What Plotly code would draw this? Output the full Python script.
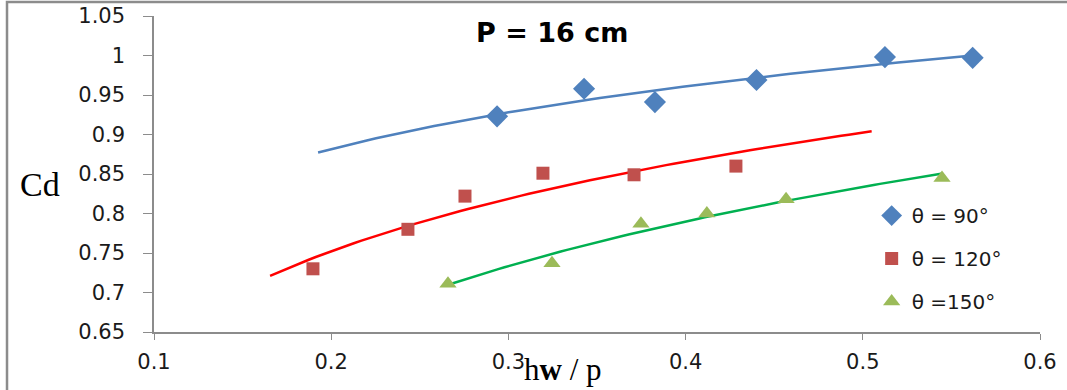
import numpy as np
import plotly.graph_objects as go

# Measured discharge coefficient vs relative head, P = 16 cm
hw_p_90 = [0.2936, 0.3427, 0.3827, 0.4400, 0.5125, 0.5620]
cd_90 = [0.923, 0.958, 0.941, 0.969, 0.998, 0.997]

hw_p_120 = [0.1897, 0.2433, 0.2755, 0.3195, 0.3709, 0.4284]
cd_120 = [0.730, 0.780, 0.822, 0.851, 0.849, 0.860]

hw_p_150 = [0.2659, 0.3246, 0.3748, 0.4120, 0.4567, 0.5447]
cd_150 = [0.711, 0.737, 0.787, 0.800, 0.818, 0.845]

# x-extent of each logarithmic trendline
trend_range_90 = [0.1926, 0.562]
trend_range_120 = [0.1655, 0.505]
trend_range_150 = [0.266, 0.545]

series_names = ["θ = 90°", "θ = 120°", "θ =150°"]

x_ticks = [0.1, 0.2, 0.3, 0.4, 0.5, 0.6]
x_tick_text = ["0.1", "0.2", "0.3", "0.4", "0.5", "0.6"]
y_ticks = [0.65, 0.70, 0.75, 0.80, 0.85, 0.90, 0.95, 1.00, 1.05]
y_tick_text = ["0.65", "0.7", "0.75", "0.8", "0.85", "0.9", "0.95", "1", "1.05"]

marker_colors = ["#4F81BD", "#C0504D", "#9BBB59"]
line_colors = ["#4F81BD", "#FF0000", "#00B050"]
symbols = ["diamond", "square", "triangle-up"]
marker_sizes = [17, 13, 15]

tick_font = dict(family="DejaVu Sans", size=21, color="#1a1a1a")


def log_trend(xs, ys, xr):
    """Least-squares fit y = a + b*ln(x), evaluated across xr."""
    b, a = np.polyfit(np.log(xs), ys, 1)
    xx = np.linspace(xr[0], xr[1], 80)
    return xx, a + b * np.log(xx)


fig = go.Figure()
datasets = [
    (hw_p_90, cd_90, trend_range_90),
    (hw_p_120, cd_120, trend_range_120),
    (hw_p_150, cd_150, trend_range_150),
]

for i, (xs, ys, xr) in enumerate(datasets):
    tx, ty = log_trend(xs, ys, xr)
    fig.add_trace(go.Scatter(
        x=tx, y=ty, mode="lines",
        line=dict(color=line_colors[i], width=2.5),
        showlegend=False, hoverinfo="skip",
    ))

for i, (xs, ys, xr) in enumerate(datasets):
    fig.add_trace(go.Scatter(
        x=xs, y=ys, mode="markers", name=series_names[i],
        legendgroup=f"g{i}",
        marker=dict(symbol=symbols[i], size=marker_sizes[i],
                    color=marker_colors[i], line=dict(width=0)),
    ))

axis_color = "#8C8C8C"

fig.update_layout(
    width=1067, height=390,
    margin=dict(l=154, r=27, t=16, b=58, autoexpand=False),
    paper_bgcolor="white", plot_bgcolor="white",
    showlegend=True,
    legend=dict(
        x=0.81, y=0.43, xanchor="left", yanchor="top",
        font=dict(family="DejaVu Sans", size=20, color="#1a1a1a"),
        tracegroupgap=14, bgcolor="rgba(0,0,0,0)",
    ),
    xaxis=dict(
        range=[0.1, 0.6], tickvals=x_ticks, ticktext=x_tick_text,
        showgrid=False, zeroline=False, showline=True,
        linecolor=axis_color, linewidth=1.5,
        ticks="outside", ticklen=6, tickcolor=axis_color,
        tickfont=tick_font, ticklabelstandoff=4, automargin=False,
    ),
    yaxis=dict(
        range=[0.65, 1.05], tickvals=y_ticks, ticktext=y_tick_text,
        showgrid=False, zeroline=False, showline=True,
        linecolor=axis_color, linewidth=1.5,
        ticks="outside", ticklen=9, tickcolor=axis_color,
        tickfont=tick_font, ticklabelstandoff=14, automargin=False,
    ),
    annotations=[
        dict(text="<b>P = 16 cm</b>", x=0.449, y=0.949, xref="paper", yref="paper",
             xanchor="center", yanchor="middle", showarrow=False,
             font=dict(family="DejaVu Sans", size=27, color="black")),
        dict(text="Cd", x=-0.1287, y=0.468, xref="paper", yref="paper",
             xanchor="center", yanchor="middle", showarrow=False,
             font=dict(family="Liberation Serif", size=34, color="black")),
        dict(text="h<b>w</b> / p", x=0.4616, y=-0.118, xref="paper", yref="paper",
             xanchor="center", yanchor="middle", showarrow=False,
             font=dict(family="Liberation Serif", size=31, color="black")),
    ],
    shapes=[
        dict(type="rect", xref="paper", yref="paper",
             x0=-0.1659, x1=1.2, y0=-0.3, y1=1.044,
             line=dict(color="#8C8C8C", width=2.5), fillcolor="rgba(0,0,0,0)",
             layer="below"),
    ],
)

fig.write_html("out.html")
